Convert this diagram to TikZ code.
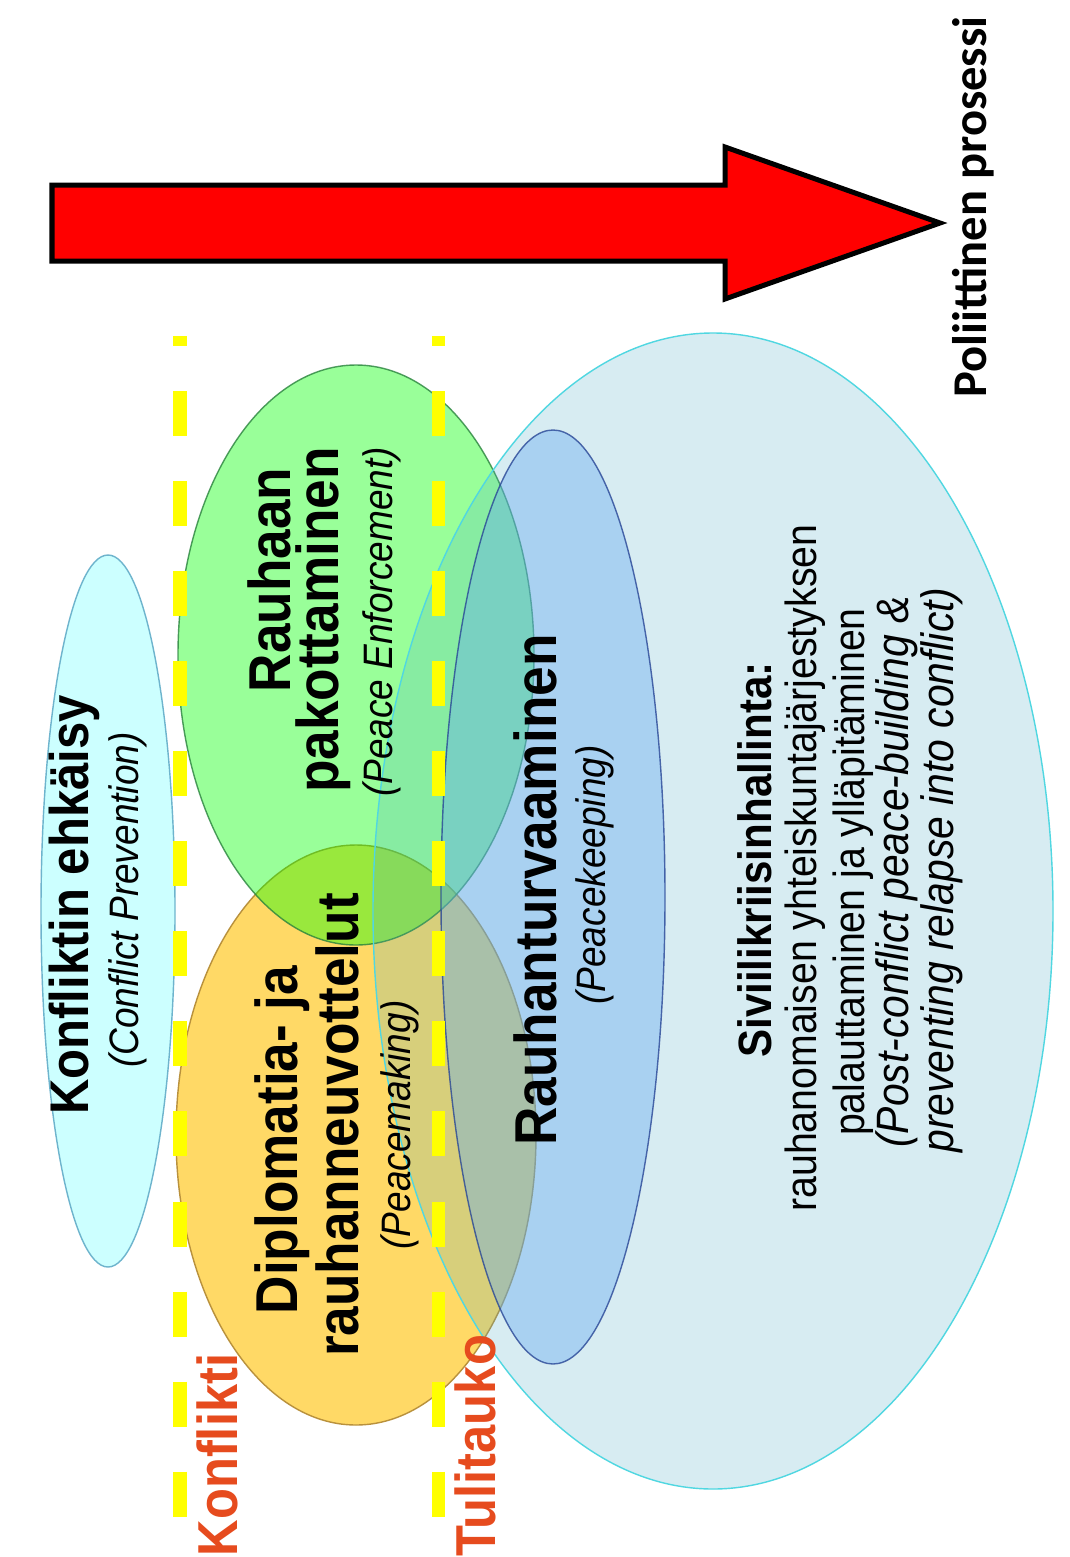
\documentclass[tikz,border=0pt]{standalone}
\usepackage{fontspec}
\setmainfont{Liberation Sans}[FakeStretch=0.9]
\newfontfamily\calfont{Carlito}
\usepackage{tikz}
\usetikzlibrary{arrows.meta}
\definecolor{arrowred}{RGB}{255,0,0}
\definecolor{dashyellow}{RGB}{255,255,0}
\definecolor{labelred}{RGB}{230,75,30}
\definecolor{preventcyan}{RGB}{204,255,255}
\definecolor{preventedge}{RGB}{110,180,205}
\definecolor{makingorange}{RGB}{255,192,0}
\definecolor{makingedge}{RGB}{185,145,60}
\definecolor{enforcegreen}{RGB}{0,255,0}
\definecolor{enforceedge}{RGB}{40,130,60}
\definecolor{civilteal}{RGB}{75,172,198}
\definecolor{civiledge}{RGB}{80,215,225}
\definecolor{keepblue}{RGB}{100,170,240}
\definecolor{keepedge}{RGB}{40,70,150}

\begin{document}
\begin{tikzpicture}[x=0.01cm, y=-0.01cm,
    zone/.style={line width=0.4pt},
    phaseline/.style={dashyellow, line width=0.13cm, dash pattern=on 0.45cm off 0.45cm, dash phase=0.35cm},
    vtext/.style={rotate=90, inner sep=0pt},
    headline/.style={vtext, font=\fontsize{16.8}{17}\selectfont\bfseries},
    noteline/.style={vtext, font=\fontsize{11.7}{12}\selectfont\itshape},
    civline/.style={vtext, font=\fontsize{12.4}{13}\selectfont},
    stagelabel/.style={rotate=90, anchor=west, inner sep=0pt, text=labelred, font=\fontsize{16}{16}\selectfont\bfseries}]
    \useasboundingbox (0,0) rectangle (1069,1557);
    \fill[white] (0,0) rectangle (1069,1557);

    % Political process arrow
    \draw[line width=0.05cm, fill=arrowred, line join=miter]
        (52,185) -- (725,185) -- (725,147) -- (940,223) -- (725,299) -- (725,261) -- (52,261) -- cycle;
    \node[rotate=90, inner sep=0pt, font=\calfont\fontsize{13.8}{14}\selectfont\bfseries] (process) at (973,207) {Poliittinen prosessi};

    % Phases as overlapping ellipses
    \draw[zone, draw=preventedge, fill=preventcyan] (108,911) ellipse (67 and 356);
    \draw[zone, draw=makingedge, fill=makingorange, fill opacity=0.6] (356,1135) ellipse (180 and 290);
    \draw[zone, draw=enforceedge, fill=enforcegreen, fill opacity=0.4, draw opacity=0.8] (356,655) ellipse (178 and 290);
    \draw[zone, draw=civiledge, fill=civilteal, fill opacity=0.22] (713,911) ellipse (340 and 578);
    \draw[zone, draw=keepedge, fill=keepblue, fill opacity=0.4, draw opacity=0.8] (553,897) ellipse (112 and 467);

    % Conflict and ceasefire lines
    \draw[phaseline] (180,336) -- (180,1557);
    \draw[phaseline] (438,336) -- (438,1557);
    \node[stagelabel] (conflict) at (217,1557) {Konflikti};
    \node[stagelabel] (ceasefire) at (475,1557) {Tulitauko};

    % Conflict prevention
    \node[headline, font=\fontsize{15.5}{16}\selectfont\bfseries] (preventTitle) at (74,905) {Konfliktin ehkäisy};
    \node[noteline] (preventNote) at (128,900) {(Conflict Prevention)};

    % Peace enforcement
    \node[headline] (enforceTitleA) at (269,580) {Rauhaan};
    \node[headline] (enforceTitleB) at (323,620) {pakottaminen};
    \node[noteline] (enforceNote) at (382,622) {(Peace Enforcement)};

    % Peacemaking
    \node[headline] (makingTitleA) at (282,1140) {Diplomatia- ja};
    \node[headline] (makingTitleB) at (337,1125) {rauhanneuvottelut};
    \node[noteline] (makingNote) at (400,1125) {(Peacemaking)};

    % Peacekeeping
    \node[headline] (keepTitle) at (535,890) {Rauhanturvaaminen};
    \node[noteline] (keepNote) at (595,875) {(Peacekeeping)};

    % Civilian crisis management
    \node[vtext, font=\fontsize{13.3}{14}\selectfont\bfseries] (civilTitle) at (755,860) {Siviilikriisinhallinta:};
    \node[civline] (civilLineA) at (805,868) {rauhanomaisen yhteiskuntajärjestyksen};
    \node[civline] (civilLineB) at (853,872) {palauttaminen ja ylläpitäminen};
    \node[civline, font=\fontsize{12.9}{13}\selectfont\itshape] (civilLineC) at (897,872) {(Post-conflict peace-building \&};
    \node[civline, font=\fontsize{12.9}{13}\selectfont\itshape] (civilLineD) at (942,870) {preventing relapse into conflict)};
\end{tikzpicture}
\end{document}
